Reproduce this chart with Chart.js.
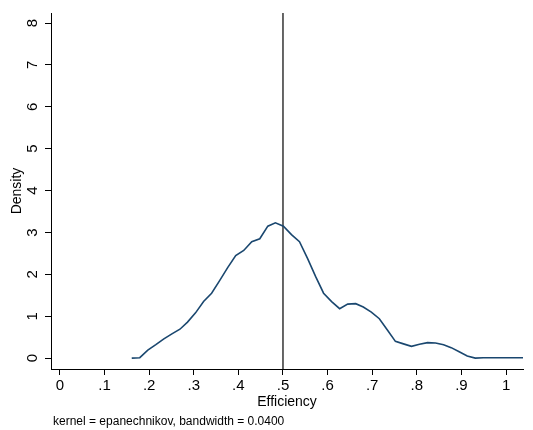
<!DOCTYPE html>
<html>
<head>
<meta charset="utf-8">
<script src="https://cdn.jsdelivr.net/npm/chart.js@4/dist/chart.umd.min.js"></script>
<style>
  html, body { margin: 0; padding: 0; background: #fff; }
  #wrap { width: 533px; height: 430px; }
</style>
</head>
<body>
<div id="wrap"><canvas id="c" width="533" height="430"></canvas></div>
<script>
// Kernel density estimate of Efficiency
const efficiency = [0.161, 0.179, 0.197, 0.215, 0.233, 0.251, 0.269, 0.286, 0.304, 0.322,
                    0.340, 0.358, 0.376, 0.394, 0.412, 0.430, 0.448, 0.466, 0.483, 0.501,
                    0.519, 0.537, 0.555, 0.573, 0.591, 0.609, 0.627, 0.645, 0.663, 0.680,
                    0.698, 0.716, 0.734, 0.752, 0.770, 0.788, 0.806, 0.824, 0.842, 0.860,
                    0.877, 0.895, 0.913, 0.931, 0.949, 0.967, 0.985, 1.003, 1.021, 1.039];
const density = [0.00, 0.01, 0.19, 0.32, 0.46, 0.58, 0.69, 0.86, 1.08, 1.35,
                 1.55, 1.85, 2.16, 2.45, 2.57, 2.78, 2.85, 3.15, 3.23, 3.15,
                 2.95, 2.78, 2.38, 1.95, 1.55, 1.35, 1.18, 1.29, 1.30, 1.22,
                 1.10, 0.94, 0.67, 0.40, 0.34, 0.28, 0.33, 0.37, 0.36, 0.32,
                 0.25, 0.15, 0.05, 0.00, 0.01, 0.01, 0.01, 0.01, 0.01, 0.01];
const refLineX = 0.5;
const xTickValues = [0, 0.1, 0.2, 0.3, 0.4, 0.5, 0.6, 0.7, 0.8, 0.9, 1];
const xTickLabels = ["0", ".1", ".2", ".3", ".4", ".5", ".6", ".7", ".8", ".9", "1"];
const yTickValues = [0, 1, 2, 3, 4, 5, 6, 7, 8];
const yTickLabels = ["0", "1", "2", "3", "4", "5", "6", "7", "8"];
const xTitle = "Efficiency";
const yTitle = "Density";
const noteText = "kernel = epanechnikov, bandwidth = 0.0400";

const FONT = "'Liberation Sans', Arial, Helvetica, sans-serif";
const X_MIN = -0.02, X_MAX = 1.038, Y_MIN = -0.26, Y_MAX = 8.24;

const extras = {
  id: 'extras',
  afterDraw(chart) {
    const ctx = chart.ctx;
    const ys = chart.scales.y;
    ctx.save();
    ctx.fillStyle = '#000';
    ctx.font = '15px ' + FONT;
    ctx.textAlign = 'center';
    ctx.textBaseline = 'middle';
    yTickValues.forEach((v, i) => {
      const py = ys.getPixelForValue(v);
      ctx.save();
      ctx.translate(33, py);
      ctx.rotate(-Math.PI / 2);
      ctx.fillText(yTickLabels[i], 0, 0);
      ctx.restore();
    });
    ctx.font = '12px ' + FONT;
    ctx.textAlign = 'left';
    ctx.fillText(noteText, 53, 422);
    ctx.restore();
  }
};

new Chart(document.getElementById('c'), {
  type: 'line',
  data: {
    datasets: [
      {
        data: efficiency.map((x, i) => ({ x: x, y: density[i] })),
        borderColor: '#1a476f',
        borderWidth: 1.6,
        pointRadius: 0,
        tension: 0,
        fill: false
      },
      {
        data: [{ x: refLineX, y: Y_MIN }, { x: refLineX, y: Y_MAX }],
        borderColor: '#000',
        borderWidth: 1.2,
        pointRadius: 0,
        fill: false
      }
    ]
  },
  options: {
    responsive: false,
    animation: false,
    layout: { padding: { left: 0, top: 13, right: 10, bottom: 0 } },
    plugins: { legend: { display: false }, tooltip: { enabled: false } },
    scales: {
      x: {
        type: 'linear',
        min: X_MIN,
        max: X_MAX,
        afterBuildTicks: s => { s.ticks = xTickValues.map(v => ({ value: v })); },
        afterFit: s => { s.height = 61; },
        ticks: {
          callback: (v) => { const i = xTickValues.findIndex(t => Math.abs(t - v) < 1e-9); return i >= 0 ? xTickLabels[i] : ''; },
          font: { family: FONT, size: 15 },
          color: '#000',
          padding: 2,
          maxRotation: 0,
          autoSkip: false
        },
        grid: { drawOnChartArea: false, drawTicks: true, tickLength: 6, color: '#000', tickWidth: 1 },
        border: { display: true, color: '#000', width: 1 },
        title: { display: true, text: xTitle, font: { family: FONT, size: 14 }, color: '#000', padding: { top: 0, bottom: 19 } }
      },
      y: {
        type: 'linear',
        min: Y_MIN,
        max: Y_MAX,
        afterBuildTicks: s => { s.ticks = yTickValues.map(v => ({ value: v })); },
        afterFit: s => { s.width = 51; },
        ticks: { display: false },
        grid: { drawOnChartArea: false, drawTicks: true, tickLength: 6, color: '#000', tickWidth: 1 },
        border: { display: true, color: '#000', width: 1 },
        title: { display: true, text: yTitle, font: { family: FONT, size: 14 }, color: '#000', padding: { top: 9, bottom: 0 } }
      }
    }
  },
  plugins: [extras]
});
</script>
</body>
</html>
